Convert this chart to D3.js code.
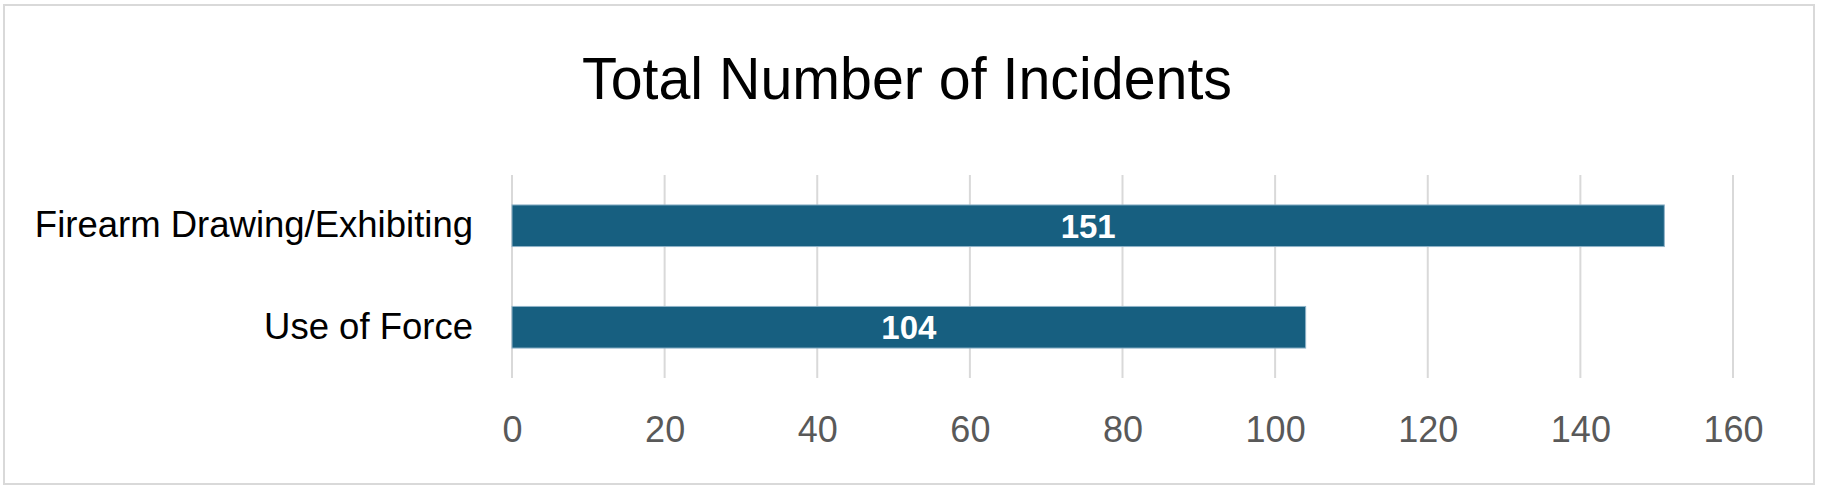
<!DOCTYPE html>
<html>
<head>
<meta charset="utf-8">
<script src="https://cdn.jsdelivr.net/npm/d3@7"></script>
<style>
  body { margin: 0; background: #fff; }
  svg text { font-family: "Liberation Sans", Arial, sans-serif; }
</style>
</head>
<body>
<div id="chart"></div>
<script>
// chart data
var categories = ["Firearm Drawing/Exhibiting", "Use of Force"];
var incidents = [151, 104];
var tickValues = [0, 20, 40, 60, 80, 100, 120, 140, 160];
var chartTitle = "Total Number of Incidents";

var W = 1824, H = 490;
var margin = { top: 175, right: 91, bottom: 112, left: 512 };
var width = 1733 - margin.left;
var height = 378 - margin.top;
var barColour = "#175f80";

var data = categories.map(function (c, i) { return { cat: c, value: incidents[i] }; });

var svg = d3.select("#chart").append("svg")
    .attr("width", W)
    .attr("height", H);

// outer frame
svg.append("rect")
    .attr("x", 4).attr("y", 5)
    .attr("width", 1810).attr("height", 479)
    .attr("fill", "#fff")
    .attr("stroke", "#d9d9d9")
    .attr("stroke-width", 2);

// title
svg.append("text")
    .attr("x", 907)
    .attr("y", 99)
    .attr("text-anchor", "middle")
    .style("font-size", "59px")
    .attr("textLength", 650)
    .attr("lengthAdjust", "spacingAndGlyphs")
    .attr("fill", "#000")
    .text(chartTitle);

var g = svg.append("g")
    .attr("transform", "translate(" + margin.left + "," + margin.top + ")");

var x = d3.scaleLinear()
    .domain([0, 160])
    .range([0, width]);

var y = d3.scaleBand()
    .domain(categories)
    .range([0, height])
    .paddingInner(0.59)
    .paddingOuter(0.295);

// gridlines
g.append("g").attr("class", "grid")
    .selectAll("line")
    .data(tickValues)
    .enter().append("line")
    .attr("x1", d => x(d))
    .attr("x2", d => x(d))
    .attr("y1", 0)
    .attr("y2", height)
    .attr("stroke", "#d9d9d9")
    .attr("stroke-width", 2);

// x axis (labels only)
var xAxis = g.append("g")
    .attr("transform", "translate(0," + height + ")")
    .call(d3.axisBottom(x).tickValues(tickValues).tickSize(0).tickPadding(38));
xAxis.select(".domain").remove();
xAxis.selectAll("text")
    .style("font-size", "36px")
    .attr("fill", "#595959");

// y axis (labels only)
var yAxis = g.append("g")
    .call(d3.axisLeft(y).tickSize(0).tickPadding(39));
yAxis.select(".domain").remove();
yAxis.selectAll("text")
    .style("font-size", "36.5px")
    .attr("fill", "#000");

// bars
g.append("g").attr("class", "bars")
    .selectAll("rect")
    .data(data)
    .enter().append("rect")
    .attr("x", x(0))
    .attr("y", d => y(d.cat))
    .attr("width", d => x(d.value) - x(0))
    .attr("height", y.bandwidth())
    .attr("fill", barColour)
    .attr("stroke", "#8fb3c8")
    .attr("stroke-width", 1);

// bar labels
g.append("g").attr("class", "label")
    .selectAll("text")
    .data(data)
    .enter().append("text")
    .attr("x", d => x(d.value) / 2)
    .attr("y", d => y(d.cat) + y.bandwidth() / 2)
    .attr("dy", "0.36em")
    .attr("text-anchor", "middle")
    .style("font-size", "33px")
    .style("font-weight", "bold")
    .attr("fill", "#fff")
    .text(d => d.value);
</script>
</body>
</html>
